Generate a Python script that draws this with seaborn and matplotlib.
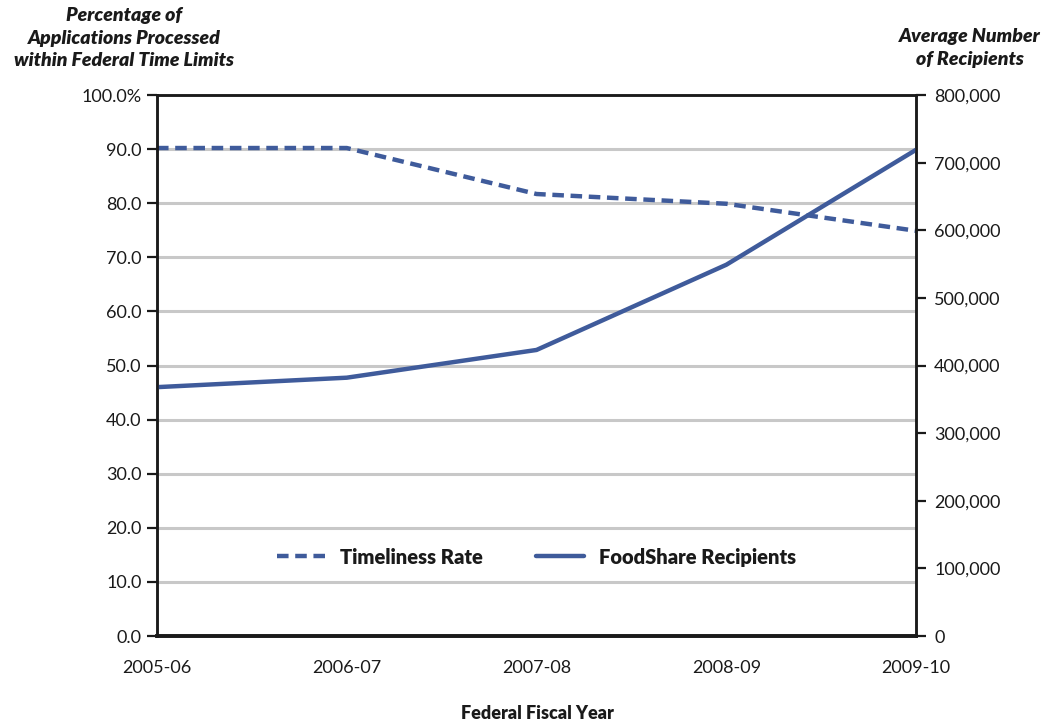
import numpy as np
import pandas as pd
import matplotlib
matplotlib.use("Agg")
import matplotlib.pyplot as plt
import seaborn as sns
from matplotlib.lines import Line2D
from matplotlib.ticker import FuncFormatter

# --- data ---
years = ["2005-06", "2006-07", "2007-08", "2008-09", "2009-10"]
timeliness = [90.2, 90.2, 81.7, 79.9, 74.9]
recipients = [368000, 382000, 423000, 549000, 719000]

blue = "#3f5b9b"

sns.set_style("white")
plt.rcParams["font.family"] = ["Lato", "DejaVu Sans"]

df = pd.DataFrame({"pos": np.arange(len(years)), "year": years,
                   "timeliness": timeliness, "recipients": recipients})

fig = plt.figure(figsize=(10.41, 7.23), dpi=100)
ax = fig.add_axes([0.1508, 0.1203, 0.7292, 0.7483])
ax2 = ax.twinx()

sns.lineplot(data=df, x="pos", y="timeliness", ax=ax, color=blue, lw=3.2,
             linestyle=(0, (2.6, 1.5)))
sns.lineplot(data=df, x="pos", y="recipients", ax=ax2, color=blue, lw=3.2)

ax.set_xlim(0, len(years) - 1)
ax.set_ylim(0, 100)
ax2.set_ylim(0, 800000)

ax.set_yticks(np.arange(0, 101, 10))
ax.yaxis.set_major_formatter(FuncFormatter(lambda v, p: "100.0%" if v == 100 else f"{v:.1f}"))
ax2.set_yticks(np.arange(0, 800001, 100000))
ax2.yaxis.set_major_formatter(FuncFormatter(lambda v, p: f"{int(v):,}"))
ax.set_xticks(df["pos"])
ax.set_xticklabels(years)

# gridlines
for v in range(10, 100, 10):
    ax.axhline(v, color="#c8c8c8", lw=2.2, zorder=0)

for a in (ax, ax2):
    for s in a.spines.values():
        s.set_color("#1a1a1a")
        s.set_linewidth(1.8)
    a.spines["bottom"].set_linewidth(2.6)
    a.set_xlabel("")
    a.set_ylabel("")
    a.tick_params(length=7, width=1.6, color="#1a1a1a", labelsize=13,
                  labelcolor="#1a1a1a", direction="out", pad=4)
ax.tick_params(axis="x", pad=10)
ax2.tick_params(axis="y", pad=6)

# axis titles
fig.text(0.119, 0.99, "Percentage of\nApplications Processed\nwithin Federal Time Limits",
         ha="center", va="top", fontsize=14, fontweight="heavy", style="italic",
         linespacing=1.4, color="#1a1a1a")
fig.text(0.932, 0.961, "Average Number\nof Recipients",
         ha="center", va="top", fontsize=14, fontweight="heavy", style="italic",
         linespacing=1.4, color="#1a1a1a")
fig.text(0.516, 0.002, "Federal Fiscal Year", ha="center", va="bottom",
         fontsize=13, fontweight="heavy", color="#1a1a1a")

handles = [Line2D([], [], color=blue, lw=3.2, linestyle=(0, (2.6, 1.5))),
           Line2D([], [], color=blue, lw=3.2)]
leg = ax.legend(handles, ["Timeliness Rate", "FoodShare Recipients"], loc="center",
                bbox_to_anchor=(0.50, 0.146), ncol=2, frameon=False, handlelength=2.4,
                columnspacing=2.6, handletextpad=0.75,
                prop={"weight": "heavy", "size": 14.5})
for t in leg.get_texts():
    t.set_color("#1a1a1a")

fig.savefig("out.png", dpi=100)
